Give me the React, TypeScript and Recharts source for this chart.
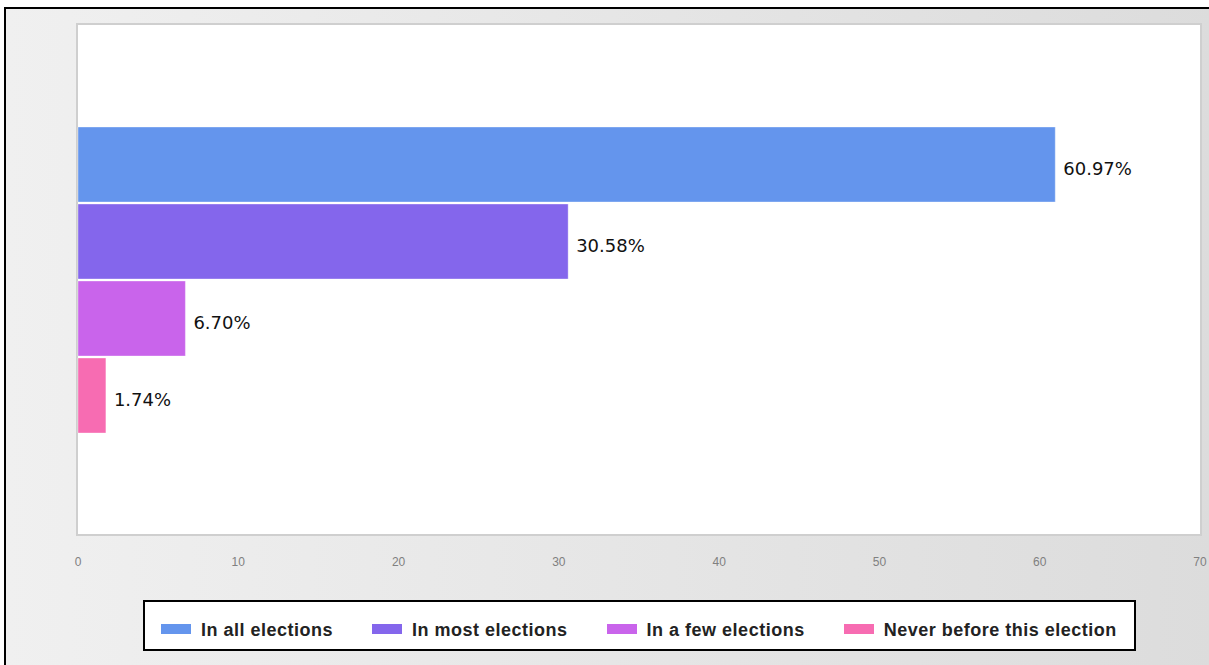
import React from "react";
import { BarChart, Bar, XAxis, YAxis, LabelList } from "recharts";

// one category, four series drawn as horizontal bars
const categories = [""];
const seriesKeys = ["all", "most", "few", "never"];
const seriesNames = [
  "In all elections",
  "In most elections",
  "In a few elections",
  "Never before this election",
];
const seriesValues = [60.97, 30.58, 6.7, 1.74];
const seriesColors = ["#6495ED", "#8466EC", "#C964EB", "#F76CB2"];
const xTicks = [0, 10, 20, 30, 40, 50, 60, 70];

const data = categories.map((name) => {
  const row: Record<string, string | number> = { name };
  seriesKeys.forEach((k, i) => {
    row[k] = seriesValues[i];
  });
  return row;
});

const W = 1209;
const H = 665;

function Legend() {
  return (
    <div
      style={{
        position: "absolute",
        left: 143,
        top: 600,
        height: 51,
        boxSizing: "border-box",
        border: "2px solid #000",
        background: "#fff",
        display: "flex",
        alignItems: "center",
        padding: "10px 17px 0 16px",
        gap: 39,
        fontFamily: "'Liberation Sans', Arial, sans-serif",
        fontWeight: "bold",
        fontSize: 18,
        letterSpacing: 0.5,
        color: "#222",
        whiteSpace: "nowrap",
      }}
    >
      {seriesNames.map((n, i) => (
        <div key={n} style={{ display: "flex", alignItems: "center" }}>
          <span
            style={{
              display: "inline-block",
              width: 30,
              height: 10,
              background: seriesColors[i],
              marginRight: 10,
              marginTop: -3,
            }}
          />
          <span>{n}</span>
        </div>
      ))}
    </div>
  );
}

export default function App() {
  return (
    <div style={{ position: "absolute", left: 0, top: 0, width: W, height: H, overflow: "hidden" }}>
      <div
        style={{
          position: "absolute",
          left: 4,
          top: 7,
          width: 1210,
          height: 700,
          borderLeft: "2px solid #000",
          borderTop: "2px solid #000",
          background: "linear-gradient(to right, #f0f0f0, #dcdcdc)",
        }}
      />
      {/* plot frame */}
      <div
        style={{
          position: "absolute",
          left: 76,
          top: 23,
          width: 1126,
          height: 513,
          boxSizing: "border-box",
          border: "2px solid #cfcfcf",
          background: "#fff",
        }}
      />
      <div style={{ position: "absolute", left: 0, top: 0 }}>
        <BarChart
          width={W}
          height={H}
          data={data}
          layout="vertical"
          margin={{ top: 26, right: 9, bottom: 91, left: 78 }}
          barSize={75}
          barGap={2}
        >
          <XAxis
            type="number"
            domain={[0, 70]}
            ticks={xTicks}
            axisLine={false}
            tickLine={false}
            tickSize={0}
            tickMargin={23}
            height={40}
            interval={0}
            tick={{ fontSize: 12, fill: "#808080", fontFamily: "'Liberation Sans', Arial, sans-serif" }}
          />
          <YAxis type="category" dataKey="name" hide />
          {seriesKeys.map((k, i) => (
            <Bar
              key={k}
              dataKey={k}
              name={seriesNames[i]}
              fill={seriesColors[i]}
              stroke="rgba(255,255,255,0.35)"
              strokeWidth={1}
              isAnimationActive={false}
            >
              <LabelList
                dataKey={k}
                position="right"
                offset={8}
                dy={4}
                formatter={(v: any) => `${Number(v).toFixed(2)}%`}
                fill="#111"
                fontSize={18}
                fontFamily="'DejaVu Sans', Verdana, sans-serif"
              />
            </Bar>
          ))}
        </BarChart>
      </div>
      <Legend />
    </div>
  );
}
